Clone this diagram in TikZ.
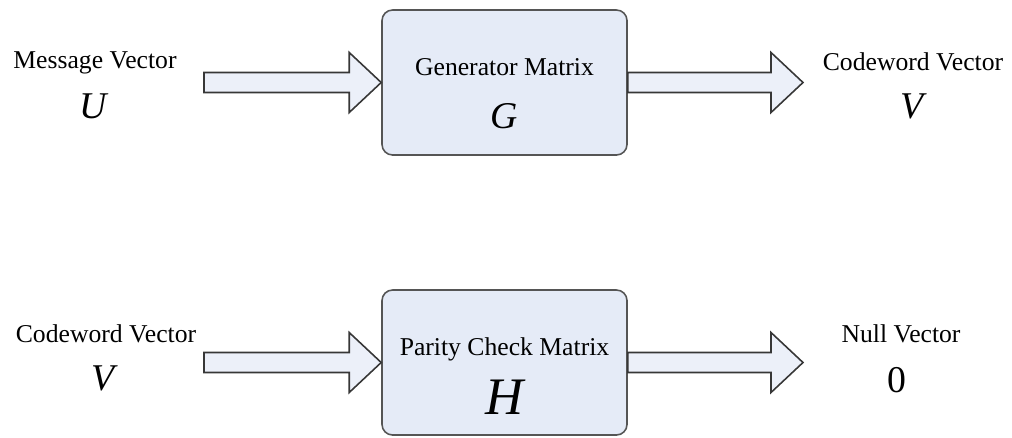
\documentclass[tikz,border=0pt]{standalone}
\usepackage{fontspec}
\setmainfont{Liberation Serif}
\definecolor{boxfill}{RGB}{229, 235, 247}
\definecolor{arrowfill}{RGB}{236, 240, 249}
\definecolor{boxline}{RGB}{85, 85, 85}
\definecolor{arrowline}{RGB}{55, 55, 55}
\usetikzlibrary{calc, positioning}

% wide hollow arrow from #1 to #2 (horizontal)
\newcommand{\fatarrow}[2]{%
  \draw[fatbody] ($(#1)+(0,0.2)$) -- ($(#2)+(-0.64,0.2)$) -- ($(#2)+(-0.64,0.6)$)
    -- (#2) -- ($(#2)+(-0.64,-0.6)$) -- ($(#2)+(-0.64,-0.2)$) -- ($(#1)+(0,-0.2)$) -- cycle;}

\begin{document}
\begin{tikzpicture}[
    matbox/.style={draw=boxline, fill=boxfill, line width=0.9pt, rounded corners=6pt,
                   minimum width=4.9cm, minimum height=2.9cm, inner sep=0pt},
    fatbody/.style={draw=arrowline, fill=arrowfill, line width=0.9pt, line join=miter},
    txt/.style={anchor=base, inner sep=0pt, font=\fontsize{14.6}{17}\selectfont},
    sym/.style={anchor=base, inner sep=0pt, font=\fontsize{21.5}{24}\selectfont\itshape},
  ]
  \useasboundingbox (0,0) rectangle (20.24,-8.74);

  % encoder
  \node[matbox] (gen) at (10.09,-1.65) {};
  \node[txt] (gen-title) at ($(gen.center)+(0,0.15)$) {Generator Matrix};
  \node[sym] (gen-sym) at ($(gen.center)+(0,-0.91)$) {G};

  \node[txt] (msg) at (1.9,-1.36) {Message Vector};
  \node[sym] (msg-sym) at (1.86,-2.36) {U};
  \node[txt] (cw-out) at (18.26,-1.4) {Codeword Vector};
  \node[sym] (cw-out-sym) at (18.24,-2.36) {V};

  \coordinate (msg-tail) at (4.08,-1.65);
  \coordinate (cw-tip) at (16.06,-1.65);
  \fatarrow{msg-tail}{gen.west}
  \fatarrow{gen.east}{cw-tip}

  % parity check
  \node[matbox] (chk) at (10.09,-7.25) {};
  \node[txt] (chk-title) at ($(chk.center)+(0,0.15)$) {Parity Check Matrix};
  \node[sym, font=\fontsize{30}{34}\selectfont\itshape] (chk-sym) at ($(chk.center)+(0,-1.03)$) {H};

  \node[txt] (cw-in) at (2.12,-6.84) {Codeword Vector};
  \node[sym] (cw-in-sym) at (2.06,-7.8) {V};
  \node[txt] (null) at (18.02,-6.84) {Null Vector};
  \node[sym, font=\fontsize{21.5}{24}\selectfont] (null-sym) at (17.94,-7.84) {0};

  \coordinate (cw-tail) at (4.08,-7.25);
  \coordinate (null-tip) at (16.06,-7.25);
  \fatarrow{cw-tail}{chk.west}
  \fatarrow{chk.east}{null-tip}
\end{tikzpicture}
\end{document}
